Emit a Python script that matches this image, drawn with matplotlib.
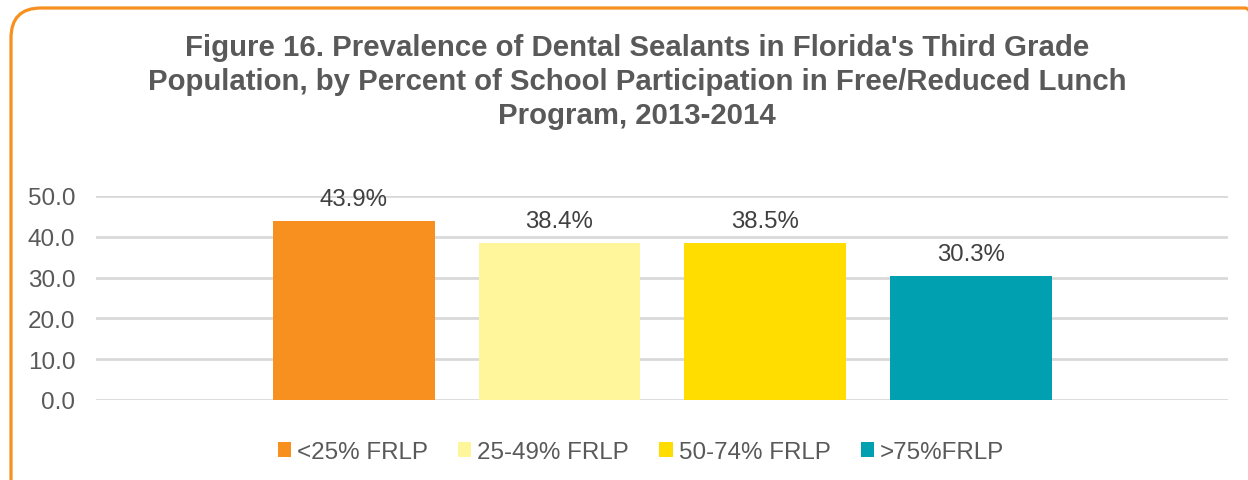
import matplotlib.pyplot as plt
from matplotlib.patches import FancyBboxPatch, Patch

plt.rcParams["font.family"] = ["Liberation Sans", "DejaVu Sans"]

# datos del grafico
series = ["<25% FRLP", "25-49% FRLP", "50-74% FRLP", ">75%FRLP"]
valores = [43.9, 38.4, 38.5, 30.3]
colores = ["#F7901E", "#FFF59B", "#FFDD00", "#00A0B0"]
yticks = [0, 10, 20, 30, 40, 50]
titulo = ("Figure 16. Prevalence of Dental Sealants in Florida's Third Grade\n"
          "Population, by Percent of School Participation in Free/Reduced Lunch\n"
          "Program, 2013-2014")

gris = "#595959"

fig = plt.figure(figsize=(12.48, 4.81), dpi=100)
ax = fig.add_axes([96 / 1248, 1 - 401 / 481, 1132 / 1248, 204 / 481])

x = list(range(len(valores)))
ax.bar(x, valores, width=162 / 206, color=colores, zorder=3)

for xi, v in zip(x, valores):
    ax.annotate("{:.1f}%".format(v), (xi, v), xytext=(0, 8), textcoords="offset points",
                ha="center", va="bottom", fontsize=17.3, color="#404040")

ax.set_xlim(-1.252, 4.248)
ax.set_ylim(0, 50)
ax.set_yticks(yticks)
ax.set_yticklabels(["{:.1f}".format(t) for t in yticks], fontsize=17.5, color=gris)
ax.set_xticks([])
ax.tick_params(axis="y", length=0, pad=15)
ax.grid(axis="y", color="#D9D9D9", linewidth=2, zorder=0)
for s in ax.spines.values():
    s.set_visible(False)

fig.text(637 / 1248, 1 - 82 / 481, titulo, ha="center", va="center", fontsize=21.2,
         fontweight="bold", color=gris, linespacing=1.28)

handles = [Patch(facecolor=c, edgecolor="none") for c in colores]
fig.legend(handles, series, loc="center", bbox_to_anchor=(641 / 1248, 1 - 453 / 481),
           ncol=4, frameon=False, fontsize=17.4, handlelength=0.55, handleheight=0.55,
           handletextpad=0.25, columnspacing=1.25, labelcolor=gris)

# borde redondeado
borde = FancyBboxPatch((0.11, -0.3), 12.64, 5.02, boxstyle="round,pad=0,rounding_size=0.3",
                       transform=fig.dpi_scale_trans, facecolor="none",
                       edgecolor="#F7901E", linewidth=2.3)
fig.add_artist(borde)

plt.savefig("out.png", dpi=100)
